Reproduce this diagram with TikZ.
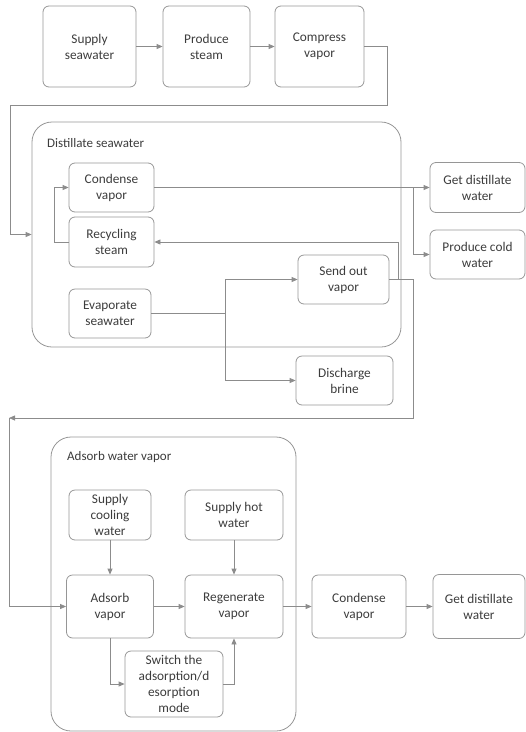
\documentclass[tikz,border=0pt]{standalone}
\usepackage{fontspec}
\setmainfont{Carlito}
\usetikzlibrary{arrows.meta}

\definecolor{linegray}{RGB}{140,140,140}
\definecolor{boxgray}{RGB}{150,150,150}
\definecolor{textgray}{RGB}{60,60,60}

\tikzset{
  stepbox/.style={draw=boxgray, line width=0.8pt, rounded corners=6pt, align=center,
    inner sep=0pt, text=textgray, font=\fontsize{13.3}{16}\selectfont},
  groupbox/.style={draw=boxgray, line width=0.8pt, rounded corners=20pt, inner sep=0pt},
  grouptitle/.style={anchor=west, inner sep=0pt, text=textgray, font=\fontsize{13}{15}\selectfont},
  flow/.style={draw=linegray, line width=0.8pt, -{Triangle[length=6pt,width=5pt]}},
  line/.style={draw=linegray, line width=0.8pt}
}

\begin{document}
\begin{tikzpicture}[x=1pt, y=1pt]

\useasboundingbox (0,0) rectangle (526,-732);

% Top row
\node[stepbox, minimum width=93pt, minimum height=81pt] (sw) at (89.5,-46.5) {Supply\\seawater};
\node[stepbox, minimum width=87pt, minimum height=81pt] (ps) at (206.5,-46.5) {Produce\\steam};
\node[stepbox, minimum width=89pt, minimum height=81pt] (cv) at (319.5,-46.5) {Compress\\vapor};

\foreach \a/\b in {sw/ps, ps/cv} {
    \draw[flow] (\a) -- (\b);
}

% Distillate seawater group
\node[groupbox, minimum width=369pt, minimum height=225pt] (distill) at (216.5,-234.5) {};
\node[grouptitle] (distilltitle) at (47,-143) {Distillate seawater};

\node[stepbox, minimum width=85pt, minimum height=49pt] (dcond) at (111.5,-187.5) {Condense\\vapor};
\node[stepbox, minimum width=85pt, minimum height=50pt] (drec) at (111.5,-242) {Recycling\\steam};
\node[stepbox, minimum width=82pt, minimum height=49pt] (devap) at (110,-313.5) {Evaporate\\seawater};
\node[stepbox, minimum width=91pt, minimum height=49pt] (dsend) at (343.5,-279.5) {Send out\\vapor};
\node[stepbox, minimum width=97pt, minimum height=49pt] (dbrine) at (344.5,-380.5) {Discharge\\brine};
\node[stepbox, minimum width=95pt, minimum height=50pt] (dget) at (477.5,-187.5) {Get distillate\\water};
\node[stepbox, minimum width=95pt, minimum height=49pt] (dcold) at (477.5,-254.5) {Produce cold\\water};

% Compress vapor into the distillate group
\coordinate (topright) at (387,-105);
\coordinate (topleft) at (10,-105);
\draw[flow] (cv.east) -| (topright) -- (topleft) |- (distill.west);

% Inside the distillate group
\draw[flow] (dcond.east) -- (dget.west);
\coordinate (dsplit) at (413,-187.5);
\draw[flow] (dsplit) |- (dcold.west);
\draw[flow] (drec.west) -- ++(-14,0) |- (dcond.west);
\draw[flow] (dsend.east) -- ++(9,0) |- (drec.east);

\coordinate (esplit) at (225,-313.5);
\draw[line] (devap.east) -- (esplit);
\draw[flow] (esplit) |- (dsend.west);
\draw[flow] (esplit) |- (dbrine.west);

% Vapor sent on to the adsorption stage
\coordinate (dout) at (413,-418);
\coordinate (aleft) at (9,-418);
\draw[flow] (dsend.east) -| (dout) -- (aleft);

% Adsorb water vapor group
\node[groupbox, minimum width=245pt, minimum height=294pt] (adsorb) at (173.5,-584) {};
\node[grouptitle] (adsorbtitle) at (67,-457) {Adsorb water vapor};

\node[stepbox, minimum width=82pt, minimum height=50pt] (acool) at (110,-515) {Supply\\cooling\\water};
\node[stepbox, minimum width=98pt, minimum height=50pt] (ahot) at (234,-515) {Supply hot\\water};
\node[stepbox, minimum width=87pt, minimum height=63pt] (aads) at (110,-606.5) {Adsorb\\vapor};
\node[stepbox, minimum width=98pt, minimum height=63pt] (aregen) at (234,-606.5) {Regenerate\\vapor};
\node[stepbox, minimum width=98pt, minimum height=66pt] (aswitch) at (174,-684) {Switch the\\adsorption/d\\esorption\\mode};
\node[stepbox, minimum width=94pt, minimum height=63pt] (acond) at (359,-606.5) {Condense\\vapor};
\node[stepbox, minimum width=92pt, minimum height=64pt] (aget) at (479,-606.5) {Get distillate\\water};

\draw[flow] (aleft) |- (aads.west);
\draw[flow] (acool) -- (aads);
\draw[flow] (ahot) -- (aregen);
\foreach \a/\b in {aads/aregen, aregen/acond, acond/aget} {
    \draw[flow] (\a) -- (\b);
}
\draw[flow] (aads.south) |- (aswitch.west);
\draw[flow] (aswitch.east) -| (aregen.south);

\end{tikzpicture}
\end{document}
